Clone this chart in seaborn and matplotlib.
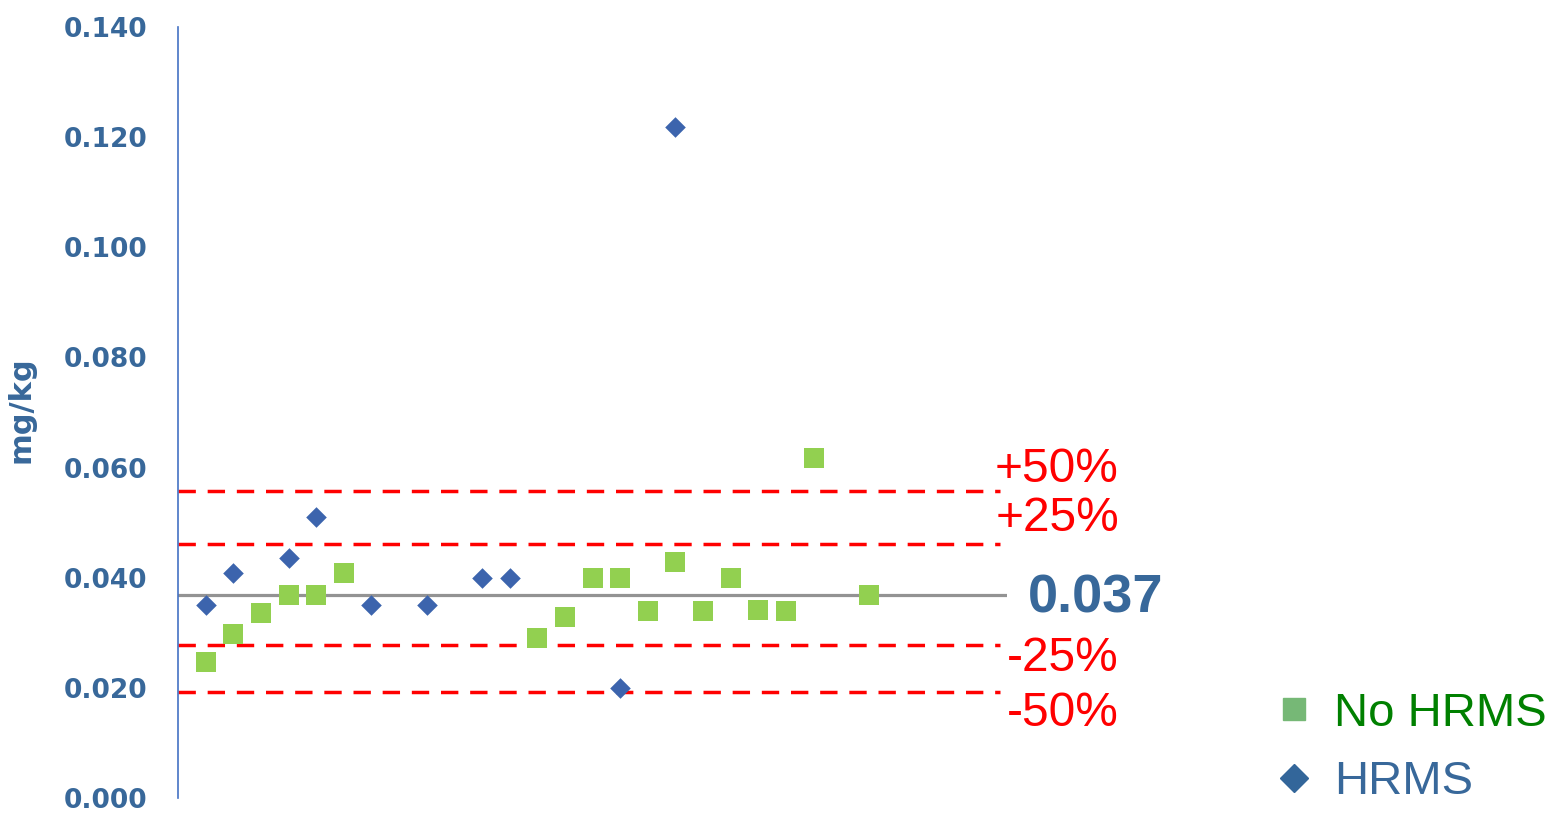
#!/usr/bin/env python3

import matplotlib.pyplot as plt
from matplotlib.lines import Line2D
import seaborn as sns

# lab results, x = lab number
hrms_lab = [1, 2, 4, 5, 7, 9, 11, 12, 16, 18]
hrms_val = [0.0350, 0.0408, 0.0435, 0.0510, 0.0350, 0.0350, 0.0399, 0.0399,
            0.0200, 0.1219]

no_hrms_lab = [1, 2, 3, 4, 5, 6, 13, 14, 15, 16, 17, 18, 19, 20, 21, 22, 23, 25]
no_hrms_val = [0.0247, 0.0297, 0.0336, 0.0368, 0.0368, 0.0408, 0.0290, 0.0328,
               0.0399, 0.0399, 0.0339, 0.0428, 0.0339, 0.0399, 0.0341, 0.0339,
               0.0618, 0.0368]

assigned_value = 0.0368
assigned_label = '0.037'
band_val = [0.0557, 0.0461, 0.0277, 0.0192]
band_labels = ['+50%', '+25%', '-25%', '-50%']

y_ticks = [0.0, 0.02, 0.04, 0.06, 0.08, 0.10, 0.12, 0.14]

BLUE_TXT = '#38689a'
DIAMOND = '#3c64ad'
SQUARE = '#92d050'

sns.set_style('white')
plt.rcParams['font.family'] = ['Liberation Sans', 'DejaVu Sans']

fig = plt.figure(figsize=(15.52, 8.13), dpi=100)
ax = fig.add_axes([178 / 1552, 1 - 798 / 813, 829 / 1552, 771 / 813])

ax.axhline(assigned_value, color='#939393', lw=2.3, zorder=1)
for v in band_val:
    ax.axhline(v, xmax=0.9915, color='#ff0000', lw=2.5,
               ls=(0, (5.0, 3.4)), zorder=1)

sns.scatterplot(x=no_hrms_lab, y=no_hrms_val, marker='s', s=190,
                color=SQUARE, linewidth=0, ax=ax, zorder=3)
sns.scatterplot(x=hrms_lab, y=hrms_val, marker='D', s=110,
                color=DIAMOND, linewidth=0, ax=ax, zorder=3)

ax.set_xlim(0, 30)
ax.set_ylim(0, 0.14)
ax.set_xticks([])
ax.set_yticks(y_ticks)
ax.set_yticklabels([f'{t:.3f}' for t in y_ticks], fontfamily='DejaVu Sans',
                   fontweight='bold', fontsize=19, color=BLUE_TXT)
ax.tick_params(axis='y', length=0, pad=22)
ax.set_ylabel('mg/kg', fontfamily='DejaVu Sans', fontweight='bold',
              fontsize=22, color=BLUE_TXT)
ax.yaxis.set_label_coords(-0.172, 0.503)

for side in ['top', 'right', 'bottom']:
    ax.spines[side].set_visible(False)
ax.spines['left'].set_color('#4472c4')
ax.spines['left'].set_linewidth(1.2)

# band labels to the right of the plot
label_y = [0.0597, 0.0507, 0.0253, 0.0153]
for txt, yy in zip(band_labels, label_y):
    ax.text(34.05, yy, txt, color='#ff0000', fontsize=34.5, ha='right',
            va='center', clip_on=False)
ax.text(30.75, 0.0362, assigned_label, color=BLUE_TXT, fontsize=39,
        fontweight='bold', ha='left', va='center', clip_on=False)

handles = [
    Line2D([], [], marker='s', ls='', color='#76b876', markersize=16),
    Line2D([], [], marker='D', ls='', color='#33669a', markersize=14),
]
leg = fig.legend(handles, ['No HRMS', 'HRMS'], loc='center left',
                 bbox_to_anchor=(1270 / 1552, 1 - 748 / 813), frameon=False,
                 fontsize=34, handlelength=1.0, handletextpad=0.35,
                 labelspacing=0.52, borderpad=0, borderaxespad=0)
leg.get_texts()[0].set_color('#008000')
leg.get_texts()[1].set_color(BLUE_TXT)

fig.savefig('out.png', dpi=100)
